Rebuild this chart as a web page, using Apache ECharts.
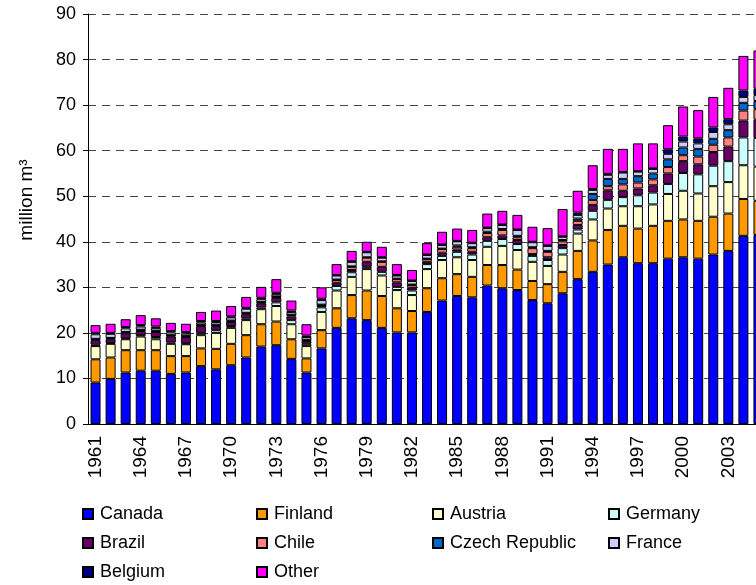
<!DOCTYPE html>
<html>
<head>
<meta charset="utf-8">
<title>Stacked bars</title>
<script src="https://cdn.jsdelivr.net/npm/echarts@6/dist/echarts.min.js"></script>
<style>
  html, body { margin: 0; padding: 0; background: #fff; overflow: hidden; }
  /* a bit wider than the window: the last bar is cut off in the picture */
  #chart { width: 780px; height: 585px; }
</style>
</head>
<body>
<div id="chart"></div>
<script>
  // years on the x axis
  var years = [];
  for (var y = 1961; y <= 2005; y++) years.push(String(y));

  // values per country, million m3
  var canada  = [9.1, 9.9, 11.3, 11.7, 11.7, 11.0, 11.3, 12.7, 12.0, 12.9, 14.6, 17.0, 17.3, 14.3, 11.3, 16.6, 21.1, 23.2, 22.8, 21.1, 20.1, 20.1, 24.6, 27.1, 28.1, 27.8, 30.4, 29.8, 29.4, 27.2, 26.5, 28.7, 31.8, 33.4, 35.0, 36.6, 35.3, 35.3, 36.3, 36.6, 36.3, 37.2, 38.0, 41.3, 41.5];
  var finland = [5.1, 4.7, 4.9, 4.5, 4.5, 3.9, 3.6, 3.9, 4.5, 4.7, 4.9, 4.9, 5.2, 4.3, 3.1, 4.0, 4.3, 5.1, 6.5, 7.0, 5.3, 4.7, 5.2, 4.9, 4.8, 4.5, 4.5, 5.1, 4.5, 4.2, 4.2, 4.7, 6.2, 6.9, 7.6, 6.9, 7.6, 8.2, 8.3, 8.3, 8.3, 8.3, 8.2, 8.1, 7.5];
  var austria = [2.9, 3.0, 2.4, 3.0, 2.4, 2.7, 2.6, 2.9, 3.5, 3.5, 3.3, 3.3, 3.4, 3.3, 2.7, 4.0, 3.9, 4.0, 4.7, 4.5, 4.0, 3.5, 4.2, 4.0, 3.7, 3.7, 4.0, 4.2, 4.3, 4.2, 4.0, 3.8, 3.8, 4.6, 4.7, 4.3, 4.9, 4.7, 5.9, 6.3, 6.0, 6.7, 6.9, 7.4, 7.5];
  var germany = [0.3, 0.2, 0.2, 0.3, 0.5, 0.3, 0.2, 0.5, 0.6, 0.4, 0.4, 0.4, 0.8, 0.9, 0.5, 1.0, 1.0, 1.0, 0.5, 0.8, 0.7, 1.0, 1.1, 0.9, 1.2, 1.2, 1.3, 1.5, 1.3, 1.3, 1.3, 1.4, 0.9, 1.9, 1.9, 2.0, 2.4, 2.6, 2.2, 3.9, 4.2, 4.5, 4.6, 6.1, 6.3];
  var brazil  = [1.0, 0.8, 1.1, 0.9, 1.1, 1.3, 1.4, 1.5, 0.9, 0.9, 0.9, 0.9, 1.0, 0.8, 0.6, 0.3, 0.7, 0.5, 1.1, 1.1, 1.0, 0.6, 0.5, 0.7, 0.5, 0.6, 0.8, 0.8, 0.9, 0.4, 0.6, 0.7, 1.0, 1.3, 2.1, 1.4, 1.5, 1.6, 2.3, 2.6, 2.2, 3.0, 3.2, 3.7, 4.0];
  var chile   = [0.2, 0.2, 0.2, 0.2, 0.2, 0.2, 0.2, 0.2, 0.2, 0.2, 0.2, 0.2, 0.2, 0.3, 0.2, 0.2, 0.6, 0.7, 0.9, 1.1, 0.7, 0.6, 0.6, 0.8, 0.6, 0.8, 0.9, 1.2, 0.6, 1.3, 1.2, 0.8, 0.9, 1.1, 0.9, 1.4, 1.3, 1.3, 1.4, 1.3, 1.7, 1.6, 2.0, 2.2, 2.3];
  var czech   = [0.1, 0.1, 0.1, 0.1, 0.1, 0.1, 0.1, 0.1, 0.1, 0.1, 0.1, 0.1, 0.1, 0.1, 0.1, 0.1, 0.1, 0.1, 0.1, 0.1, 0.1, 0.1, 0.1, 0.1, 0.3, 0.2, 0.3, 0.2, 0.3, 0.2, 0.2, 0.3, 0.5, 1.3, 1.6, 1.2, 1.4, 1.3, 1.7, 1.7, 1.7, 1.3, 1.6, 1.7, 1.8];
  var france  = [1.0, 0.9, 0.8, 0.7, 0.6, 0.6, 0.5, 0.5, 0.6, 0.7, 0.9, 0.6, 0.5, 0.6, 0.6, 1.0, 0.9, 1.0, 1.1, 0.8, 0.7, 0.8, 0.8, 0.8, 0.9, 0.9, 0.8, 0.9, 1.3, 1.1, 1.1, 0.7, 0.8, 0.9, 0.9, 1.4, 1.0, 1.0, 1.2, 1.3, 1.2, 1.5, 1.3, 1.3, 1.3];
  var belgium = [0.3, 0.2, 0.3, 0.3, 0.3, 0.3, 0.3, 0.3, 0.2, 0.2, 0.2, 0.3, 0.3, 0.3, 0.3, 0.3, 0.1, 0.1, 0.1, 0.1, 0.1, 0.1, 0.1, 0.1, 0.1, 0.1, 0.1, 0.1, 0.1, 0.1, 0.1, 0.1, 0.5, 0.2, 0.2, 0.1, 0.1, 0.1, 1.0, 1.1, 1.1, 1.0, 1.1, 1.4, 1.4];
  var other   = [1.7, 2.0, 1.7, 2.2, 1.8, 1.8, 1.8, 2.0, 2.3, 2.3, 2.4, 2.4, 3.0, 2.2, 2.5, 2.5, 2.4, 2.3, 2.2, 2.3, 2.4, 2.3, 2.5, 2.8, 2.7, 2.8, 3.1, 3.0, 3.2, 3.3, 3.8, 6.0, 4.8, 5.2, 5.5, 5.1, 6.1, 5.5, 5.3, 6.6, 6.2, 6.7, 6.9, 7.6, 8.4];

  var seriesList = [
    { name: 'Canada', data: canada, color: '#0000FF' },
    { name: 'Finland', data: finland, color: '#FF9900' },
    { name: 'Austria', data: austria, color: '#FFFFCC' },
    { name: 'Germany', data: germany, color: '#CCFFFF' },
    { name: 'Brazil', data: brazil, color: '#660066' },
    { name: 'Chile', data: chile, color: '#FF8080' },
    { name: 'Czech Republic', data: czech, color: '#0066CC' },
    { name: 'France', data: france, color: '#CCCCFF' },
    { name: 'Belgium', data: belgium, color: '#000080' },
    { name: 'Other', data: other, color: '#FF00FF' }
  ];

  // legend columns, as in the picture
  var legendCols = [
    ['Canada', 'Brazil', 'Belgium'],
    ['Finland', 'Chile', 'Other'],
    ['Austria', 'Czech Republic'],
    ['Germany', 'France']
  ];
  var legendX = [82, 256, 432, 608];

  var fontFamily = '"Liberation Sans", Arial, sans-serif';

  var chart = echarts.init(document.getElementById('chart'));

  chart.setOption({
    backgroundColor: '#fff',
    animation: false,
    textStyle: { fontFamily: fontFamily },
    grid: { left: 88, top: 14, width: 678, height: 410 },
    legend: legendCols.map(function (col, i) {
      return {
        orient: 'vertical',
        left: legendX[i],
        top: 505,
        height: 120,
        padding: 0,
        data: col,
        icon: 'rect',
        itemWidth: 10,
        itemHeight: 10,
        itemGap: 11,
        selectedMode: false,
        textStyle: { fontSize: 18, lineHeight: 18, color: '#000', fontFamily: fontFamily, padding: [0, 0, 0, 2] }
      };
    }),
    xAxis: {
      type: 'category',
      data: years,
      axisLine: { lineStyle: { color: '#000', width: 1 } },
      axisTick: { interval: 0, length: 5, lineStyle: { color: '#000' } },
      axisLabel: { interval: 2, rotate: 90, margin: 12, fontSize: 19, color: '#000' }
    },
    yAxis: {
      type: 'value',
      min: 0,
      max: 90,
      interval: 10,
      axisLine: { show: true, lineStyle: { color: '#000', width: 1 } },
      axisTick: { show: true, length: 5, lineStyle: { color: '#000' } },
      axisLabel: { margin: 12, fontSize: 18, color: '#000' },
      splitLine: { lineStyle: { color: '#444', type: [8, 6], width: 1 } }
    },
    graphic: [{
      type: 'text',
      x: 27,
      y: 200,
      rotation: Math.PI / 2,
      style: {
        text: 'million m³',
        fontSize: 19,
        fontFamily: fontFamily,
        fill: '#000',
        align: 'center',
        verticalAlign: 'middle'
      }
    }],
    series: seriesList.map(function (s) {
      return {
        name: s.name,
        type: 'bar',
        stack: 'total',
        barWidth: 10,
        data: s.data,
        itemStyle: { color: s.color, borderColor: '#000', borderWidth: 1 }
      };
    })
  });
</script>
</body>
</html>
